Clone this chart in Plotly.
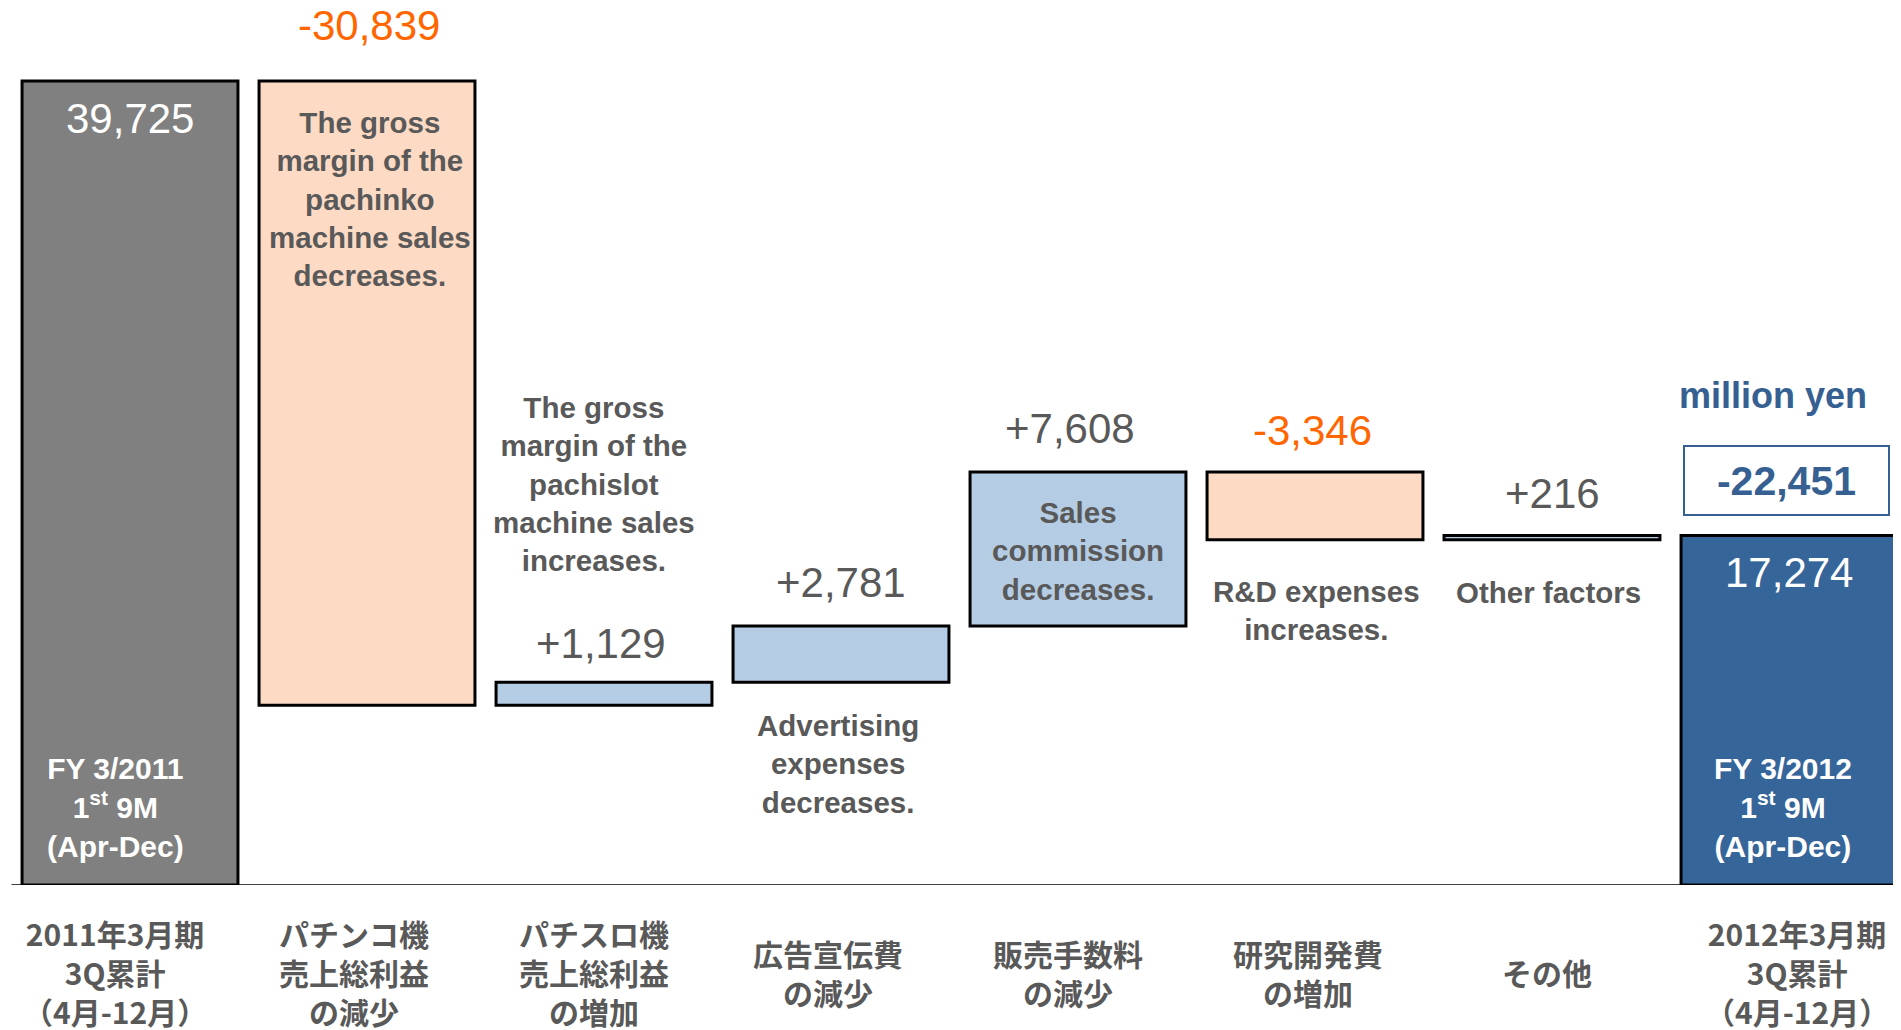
import plotly.graph_objects as go

# ---------------- data ----------------
categories = [
    "2011年3月期<br>3Q累計<br>（4月-12月）",
    "パチンコ機<br>売上総利益<br>の減少",
    "パチスロ機<br>売上総利益<br>の増加",
    "広告宣伝費<br>の減少",
    "販売手数料<br>の減少",
    "研究開発費<br>の増加",
    "その他",
    "2012年3月期<br>3Q累計<br>（4月-12月）",
]
start_total = 39725
changes = [-30839, 1129, 2781, 7608, -3346, 216]
end_total = 17274
descriptions = [
    "The gross<br>margin of the<br>pachinko<br>machine sales<br>decreases.",
    "The gross<br>margin of the<br>pachislot<br>machine sales<br>increases.",
    "Advertising<br>expenses<br>decreases.",
    "Sales<br>commission<br>decreases.",
    "R&D expenses<br>increases.",
    "Other factors",
]
period_labels = ["FY 3/2011<br>1<sup>st</sup> 9M<br>(Apr-Dec)",
                 "FY 3/2012<br>1<sup>st</sup> 9M<br>(Apr-Dec)"]
unit_label = "million yen"

# ---------------- styles ----------------
LAT = "Liberation Sans, Arial, sans-serif"
CJK = "Noto Sans CJK JP, sans-serif"
GRAY_TXT = "#595959"
ORANGE = "#FF6600"
BLUE_TXT = "#366092"
C_START = "#808080"
C_END = "#366599"
C_UP = "#B4CCE4"
C_DOWN = "#FDDAC4"

# ---------------- waterfall geometry from data ----------------
xs = list(range(len(categories)))
bases, heights, colors = [0], [start_total], [C_START]
tops, bottoms = [start_total], [0]
running = start_total
for c in changes:
    lo, hi = min(running, running + c), max(running, running + c)
    bases.append(lo)
    heights.append(hi - lo)
    colors.append(C_UP if c > 0 else C_DOWN)
    tops.append(hi)
    bottoms.append(lo)
    running += c
bases.append(0)
heights.append(end_total)
colors.append(C_END)
tops.append(end_total)
bottoms.append(0)

fig = go.Figure(go.Bar(
    x=xs, y=heights, base=bases, width=0.911,
    marker=dict(color=colors, line=dict(color="black", width=3)),
    hoverinfo="skip",
))

ann = []

def add(x, y, text, size, color, family=LAT, xshift=0, yshift=0, yref="y", **kw):
    d = dict(x=x, y=y, xref="x", yref=yref, text=text, showarrow=False,
             font=dict(family=family, size=size, color=color),
             xanchor="center", yanchor="middle", xshift=xshift, yshift=yshift,
             align="center")
    d.update(kw)
    ann.append(d)

# start / end totals (white, inside bars)
add(0, tops[0], f"{start_total:,}", 42, "white", yshift=-37)
add(7, tops[7], f"{end_total:,}", 42, "white", yshift=-37)
add(0, 0, "<b>" + period_labels[0] + "</b>", 30, "white", xshift=-15, yshift=78)
add(7, 0, "<b>" + period_labels[1] + "</b>", 30, "white", xshift=-6, yshift=78)

# change values
val_shift = [56, 39, 44, 44, 42, 42]
val_xshift = [2, -3, 0, -8, -3, 0]
for i, c in enumerate(changes):
    add(i + 1, tops[i + 1], f"{c:+,}", 42, ORANGE if c < 0 else GRAY_TXT,
        xshift=val_xshift[i], yshift=val_shift[i])

# descriptions
desc_pos = [("top", -118, 3), ("top", 198, -10), ("bottom", -82, -3),
            ("top", -79, 0), ("bottom", -71, 1), ("bottom", -53, -4)]
for i, d in enumerate(descriptions):
    ref, sh, xsh = desc_pos[i]
    yv = tops[i + 1] if ref == "top" else bottoms[i + 1]
    add(i + 1, yv, "<b>" + d.replace("&", "&amp;") + "</b>", 29.5, GRAY_TXT,
        xshift=xsh, yshift=sh)

# difference box and unit
diff = end_total - start_total
add(7, tops[7], f"<b>{diff:,}</b>", 41, BLUE_TXT, xshift=-2, yshift=55,
    bordercolor=BLUE_TXT, borderwidth=2, borderpad=0, width=203, height=67,
    bgcolor="white")
add(7, tops[7], f"<b>{unit_label}</b>", 36, BLUE_TXT, xshift=-16, yshift=140)

# category labels
cat_xshift = [-15, -13, -10, -13, -10, -7, -5, 8]
for i, cat in enumerate(categories):
    add(i, 0, "<b>" + cat + "</b>", 30, GRAY_TXT, family=CJK,
        xshift=cat_xshift[i], yshift=-87)

# baseline
fig.add_shape(type="line", xref="x", yref="y", x0=-0.5, x1=7.48, y0=0, y1=0,
              line=dict(color="black", width=1.5), layer="above")

# page body has an 8px margin: figure laid out relative to that offset
fig.update_layout(
    width=1893, height=1022,
    margin=dict(l=0, r=0, t=0, b=145),
    paper_bgcolor="white", plot_bgcolor="white",
    showlegend=False,
    annotations=ann,
    xaxis=dict(range=[-0.5148, 7.4726], visible=False, fixedrange=True),
    yaxis=dict(range=[0, 43332], visible=False, fixedrange=True),
)

fig.write_html("out.html")
